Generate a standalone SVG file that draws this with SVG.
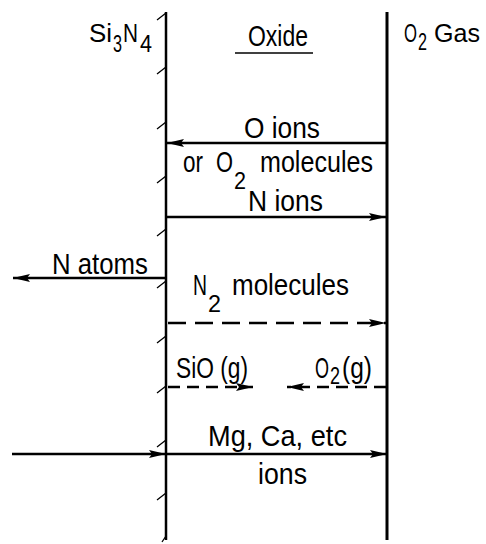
<svg xmlns="http://www.w3.org/2000/svg" width="486" height="544" viewBox="0 0 486 544">
<style>
.t{font-family:"Liberation Sans Narrow","Liberation Sans",Arial,sans-serif;fill:#000}
.h{font-size:26px}
.b{font-size:29px}
.s{font-size:24px}
.ln{stroke:#000;fill:none}
.ar{stroke:#000;stroke-width:2.5;fill:none;marker-end:url(#ah)}
.tk{stroke:#000;stroke-width:1.3;fill:none}
</style>
<defs>
<marker id="ah" markerUnits="userSpaceOnUse" markerWidth="20" markerHeight="10" refX="17" refY="4.5" orient="auto" overflow="visible">
<path d="M0,0.5 L17,4.5 L0,8.5 L3,4.5 z" fill="#000"/>
</marker>
</defs>
<rect width="486" height="544" fill="#fff"/>
<g id="si3n4">
<path class="ln" stroke-width="2.5" d="M166,12 V540"/>
<path class="tk" d="M166,13 L157,20 M166,67 L157,74 M166,122 L157,129 M166,176 L157,183 M166,229 L157,236 M166,281 L157,288 M166,336 L157,343 M166,386 L157,393 M166,440 L157,447 M166,493 L157,500 M166,536 L162,542"/>
<text class="t h" x="89" y="42" textLength="23" lengthAdjust="spacingAndGlyphs">Si</text>
<text class="t s" x="113" y="52" textLength="9" lengthAdjust="spacingAndGlyphs">3</text>
<text class="t h" x="123" y="42" textLength="15" lengthAdjust="spacingAndGlyphs">N</text>
<text class="t s" x="140" y="52" textLength="12" lengthAdjust="spacingAndGlyphs">4</text>
</g>
<g id="oxide">
<text class="t b" x="248" y="46" textLength="60" lengthAdjust="spacingAndGlyphs">Oxide</text>
<path class="ln" stroke-width="1.5" d="M235,53 H313"/>
</g>
<g id="o2gas">
<path class="ln" stroke-width="3" d="M387,12 V540"/>
<text class="t h" x="404" y="42" textLength="13" lengthAdjust="spacingAndGlyphs">O</text>
<text class="t s" x="418" y="50" textLength="9" lengthAdjust="spacingAndGlyphs">2</text>
<text class="t h" x="434" y="42" textLength="46" lengthAdjust="spacingAndGlyphs">Gas</text>
</g>
<g id="connectors">
<path class="ar" d="M387,143 H167"/>
<path class="ar" d="M167,217 H386"/>
<path class="ar" d="M166,278 H13"/>
<path class="ar" d="M168,323 H386" stroke-dasharray="18 9"/>
<path class="ar" d="M168,387 H253" stroke-dasharray="12 7"/>
<path class="ar" d="M386,387 H287" stroke-dasharray="12 7"/>
<path class="ar" d="M12,454 H166"/>
<path class="ar" d="M166,454 H387"/>
</g>
<g id="labels">
<text class="t b" x="244" y="138" textLength="76" lengthAdjust="spacingAndGlyphs">O  ions</text>
<text class="t b" x="183" y="172" textLength="20" lengthAdjust="spacingAndGlyphs">or</text>
<text class="t b" x="216" y="172" textLength="17" lengthAdjust="spacingAndGlyphs">O</text>
<text class="t s" x="234" y="189" textLength="12" lengthAdjust="spacingAndGlyphs">2</text>
<text class="t b" x="260" y="172" textLength="113" lengthAdjust="spacingAndGlyphs">molecules</text>
<text class="t b" x="248" y="211" textLength="75" lengthAdjust="spacingAndGlyphs">N  ions</text>
<text class="t b" x="52" y="274" textLength="96" lengthAdjust="spacingAndGlyphs">N  atoms</text>
<text class="t b" x="193" y="295" textLength="14" lengthAdjust="spacingAndGlyphs">N</text>
<text class="t s" x="208" y="312" textLength="13" lengthAdjust="spacingAndGlyphs">2</text>
<text class="t b" x="232" y="295" textLength="117" lengthAdjust="spacingAndGlyphs">molecules</text>
<text class="t b" x="176" y="378" textLength="72" lengthAdjust="spacingAndGlyphs">SiO (g)</text>
<text class="t b" x="315" y="378" textLength="14" lengthAdjust="spacingAndGlyphs">O</text>
<text class="t s" x="330" y="384" textLength="10" lengthAdjust="spacingAndGlyphs">2</text>
<text class="t b" x="342" y="378" textLength="30" lengthAdjust="spacingAndGlyphs">(g)</text>
<text class="t b" x="208" y="446" textLength="139" lengthAdjust="spacingAndGlyphs">Mg,  Ca,  etc</text>
<text class="t b" x="258" y="484" textLength="49" lengthAdjust="spacingAndGlyphs">ions</text>
</g>
</svg>
